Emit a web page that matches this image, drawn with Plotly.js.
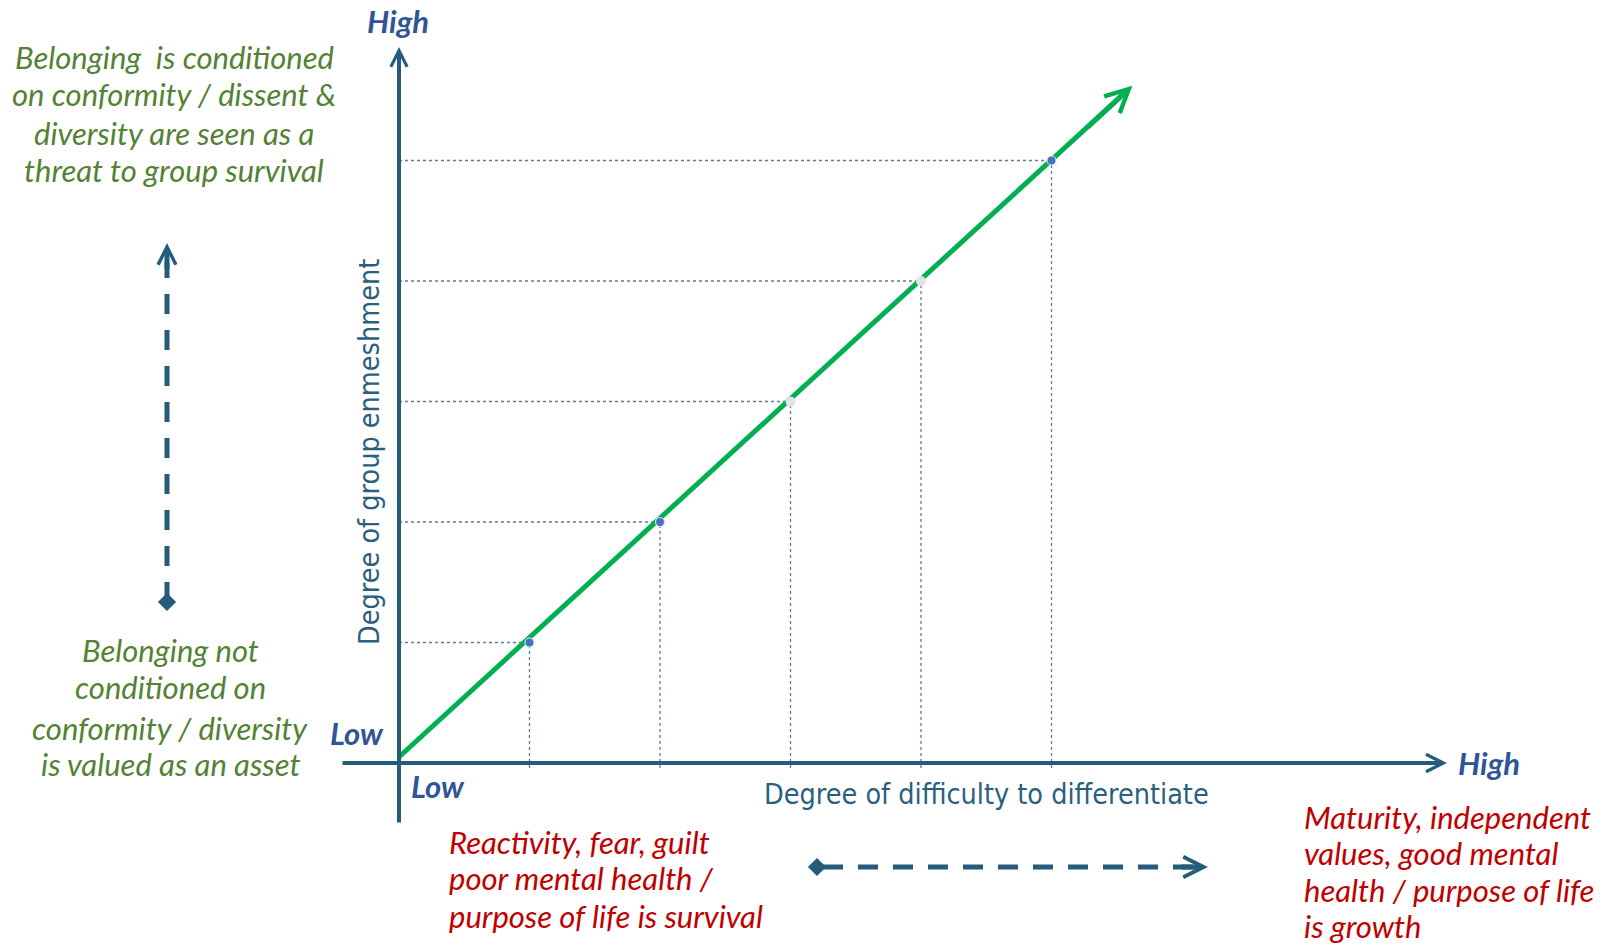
<!DOCTYPE html>
<html>
<head>
<meta charset="utf-8">
<script src="https://cdn.plot.ly/plotly-3.0.1.min.js"></script>
<style>html,body{margin:0;padding:0;background:#fff;}#chart{width:1618px;height:946px;}</style>
</head>
<body>
<div id="chart"></div>
<script>
// ---------- data ----------
const levelsX = [1, 2, 3, 4, 5];            // degree of difficulty to differentiate
const levelsY = [1, 2, 3, 4, 5];            // degree of group enmeshment
const levelColors = ['#4472C4', '#4472C4', '#E4E4E4', '#E4E4E4', '#4472C4'];
const trendX = [0, 5.62];
const trendY = [0.05, 5.62];
const xTitle = 'Degree of difficulty to differentiate';
const yTitle = 'Degree of group enmeshment';
const lowLabel = 'Low';
const highLabel = 'High';
const topNote = ['Belonging\u00A0 is conditioned', 'on conformity / dissent &', 'diversity are seen as a', 'threat to group survival'];
const bottomNote = ['Belonging not', 'conditioned on', 'conformity / diversity', 'is valued as an asset'];
const lowNote = ['Reactivity, fear, guilt', 'poor mental health /', 'purpose of life is survival'];
const highNote = ['Maturity, independent', 'values, good mental', 'health / purpose of life', 'is growth'];

// ---------- layout geometry ----------
const W = 1618, H = 946;
const OX = 399, OY = 763, UX = 130.5, UY = 120.5;
const dx = px => (px - OX) / UX;
const dy = py => (OY - py) / UY;

const AXIS = '#245C7C';
const TITLE = '#2A5F80';
const BLUE = '#2F5597';
const GREEN_T = '#548235';
const RED = '#C00000';
const GREEN_L = '#00B050';
const GUIDE = '#5B7EA0';

const ITAL = 'Lato, "Open Sans", sans-serif';
const NARROW = '"DejaVu Sans Condensed", "Liberation Sans Narrow", sans-serif';

// ---------- traces ----------
const traces = [
  {
    x: [trendX[0], trendX[1] - 0.04], y: [trendY[0], trendY[1] - 0.04],
    mode: 'lines', line: {color: GREEN_L, width: 5}, hoverinfo: 'skip'
  },
  {
    x: levelsX, y: levelsY, mode: 'markers',
    marker: {size: 9, color: levelColors, line: {color: 'rgba(225,225,235,0.95)', width: 1.2}},
    hoverinfo: 'skip'
  },
  {
    x: [dx(167), dx(817)], y: [dy(602), dy(867)], mode: 'markers',
    marker: {symbol: 'diamond', size: 14, color: AXIS}, hoverinfo: 'skip'
  }
];

// ---------- shapes ----------
const shapes = [];
levelsX.forEach((v, i) => {
  shapes.push({type: 'line', xref: 'x', yref: 'y', x0: 0, x1: v, y0: levelsY[i], y1: levelsY[i],
    line: {color: GUIDE, width: 1.3, dash: 'dot'}, layer: 'below'});
  shapes.push({type: 'line', xref: 'x', yref: 'y', x0: v, x1: v, y0: dy(768), y1: levelsY[i],
    line: {color: GUIDE, width: 1.3, dash: 'dot'}, layer: 'below'});
});
// dashed double arrows
shapes.push({type: 'line', xref: 'x', yref: 'y', x0: dx(167), x1: dx(167), y0: dy(602), y1: dy(262),
  line: {color: AXIS, width: 5, dash: '20px,16px'}});
shapes.push({type: 'line', xref: 'x', yref: 'y', x0: dx(823), x1: dx(1195), y0: dy(867), y1: dy(867),
  line: {color: AXIS, width: 5, dash: '20px,15px'}});

// ---------- annotations ----------
function arrow(x, y, ax, ay, color, width, size) {
  return {xref: 'x', yref: 'y', axref: 'x', ayref: 'y', x: x, y: y, ax: ax, ay: ay,
    text: '', showarrow: true, arrowhead: 5, arrowsize: size, arrowwidth: width, arrowcolor: color, standoff: 0};
}
function txt(s, px, py, xanchor, font) {
  return {xref: 'paper', yref: 'paper', x: px / W, y: 1 - py / H, text: s, showarrow: false,
    xanchor: xanchor, yanchor: 'middle', borderpad: 0, font: font};
}
const annotations = [
  arrow(dx(1447), 0, dx(341), 0, AXIS, 4, 0.85),
  arrow(0, dy(47), 0, dy(824), AXIS, 4, 0.8),
  arrow(trendX[1], trendY[1], trendX[1] - 0.35, trendY[1] - 0.35, GREEN_L, 5, 0.9),
  arrow(dx(167), dy(243), dx(167), dy(270), AXIS, 5, 0.7),
  arrow(dx(1208), dy(867), dx(1180), dy(867), AXIS, 5, 0.8)
];
const blueFont = {family: ITAL, size: 31, color: BLUE, weight: 'bold', style: 'italic'};
annotations.push(txt(highLabel, 398, 21, 'center', blueFont));
annotations.push(txt(lowLabel, 357, 733, 'center', blueFont));
annotations.push(txt(lowLabel, 410, 786, 'left', blueFont));
annotations.push(txt(highLabel, 1457, 763, 'left', blueFont));

annotations.push(txt(xTitle, 986, 794, 'center', {family: NARROW, size: 28.5, color: TITLE}));
annotations.push(Object.assign(txt(yTitle, 369, 452, 'center', {family: NARROW, size: 28.5, color: TITLE}), {textangle: -90}));

const greenFont = {family: ITAL, size: 31, color: GREEN_T, style: 'italic'};
const redFont = {family: ITAL, size: 31, color: RED, style: 'italic'};
const topY = [57, 94, 133, 170];
topNote.forEach((s, i) => annotations.push(txt(s, 174, topY[i], 'center', greenFont)));
const botY = [650, 687, 728, 764];
bottomNote.forEach((s, i) => annotations.push(txt(s, 170, botY[i], 'center', greenFont)));
const lowY = [842, 878, 916];
lowNote.forEach((s, i) => annotations.push(txt(s, 448, lowY[i], 'left', redFont)));
const highY = [817, 853, 890, 926];
highNote.forEach((s, i) => annotations.push(txt(s, 1303, highY[i], 'left', redFont)));

const layout = {
  width: W, height: H,
  margin: {l: 0, r: 0, t: 0, b: 0},
  paper_bgcolor: '#ffffff', plot_bgcolor: '#ffffff',
  showlegend: false,
  xaxis: {range: [-OX / UX, (W - OX) / UX], visible: false, fixedrange: true},
  yaxis: {range: [-(H - OY) / UY, OY / UY], visible: false, fixedrange: true},
  shapes: shapes,
  annotations: annotations
};

Plotly.newPlot('chart', traces, layout, {displayModeBar: false, staticPlot: true});
</script>
</body>
</html>
